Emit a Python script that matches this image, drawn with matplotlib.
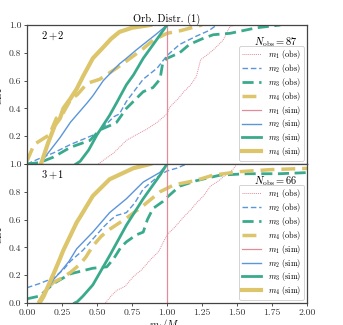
import matplotlib
matplotlib.use("Agg")
import matplotlib.pyplot as plt

plt.rcParams['font.family'] = ['cmr10', 'DejaVu Serif']
plt.rcParams['mathtext.fontset'] = 'cm'
plt.rcParams['axes.formatter.use_mathtext'] = True

# ---------------- data ----------------
title = "Orb. Distr. (1)"
panel_labels = ["$2+2$", "$3+1$"]
n_obs = [87, 66]
xticks = [0.0, 0.25, 0.5, 0.75, 1.0, 1.25, 1.5, 1.75, 2.0]
yticks = [0.0, 0.2, 0.4, 0.6, 0.8, 1.0]

# panel 1 (2+2)
p1_m1_obs_x = [0.51, 0.55, 0.62, 0.71, 0.78, 0.855, 0.93, 1.0, 1.02, 1.08, 1.12, 1.17, 1.21, 1.24, 1.28, 1.33, 1.40, 1.45, 1.50]
p1_m1_obs_y = [0.0, 0.03, 0.08, 0.17, 0.21, 0.25, 0.30, 0.36, 0.41, 0.47, 0.52, 0.57, 0.63, 0.75, 0.78, 0.82, 0.89, 0.99, 1.0]
p1_m2_obs_x = [0.0, 0.09, 0.19, 0.31, 0.43, 0.50, 0.55, 0.62, 0.66, 0.71, 0.83, 0.93, 1.0, 1.09, 1.21, 1.30, 1.355]
p1_m2_obs_y = [0.0, 0.04, 0.08, 0.14, 0.19, 0.22, 0.27, 0.34, 0.36, 0.45, 0.61, 0.69, 0.78, 0.86, 0.92, 0.96, 1.0]
p1_m3_obs_x = [0.0, 0.09, 0.19, 0.31, 0.45, 0.52, 0.60, 0.64, 0.71, 0.76, 0.83, 0.90, 0.95, 0.97, 1.0, 1.09, 1.16, 1.25, 1.33, 1.45, 1.64, 1.81]
p1_m3_obs_y = [0.0, 0.01, 0.05, 0.12, 0.17, 0.245, 0.28, 0.30, 0.40, 0.45, 0.52, 0.55, 0.61, 0.73, 0.76, 0.80, 0.86, 0.90, 0.93, 0.94, 0.98, 1.0]
p1_m4_obs_x = [0.0, 0.05, 0.16, 0.21, 0.26, 0.31, 0.36, 0.43, 0.52, 0.64, 0.71, 0.83, 0.90, 1.0, 1.10, 1.21, 1.25]
p1_m4_obs_y = [0.02, 0.14, 0.21, 0.33, 0.37, 0.46, 0.50, 0.58, 0.61, 0.69, 0.74, 0.83, 0.89, 0.94, 0.96, 0.99, 1.0]
p1_m1_sim_x = [1.0, 1.0]
p1_m1_sim_y = [0.0, 1.0]
p1_m2_sim_x = [0.09, 0.19, 0.236, 0.31, 0.43, 0.47, 0.545, 0.66, 0.71, 0.78, 0.855, 0.93, 1.0]
p1_m2_sim_y = [0.0, 0.13, 0.19, 0.30, 0.44, 0.49, 0.60, 0.72, 0.76, 0.82, 0.88, 0.94, 1.0]
p1_m3_sim_x = [0.35, 0.38, 0.44, 0.50, 0.59, 0.64, 0.71, 0.76, 0.83, 0.88, 0.93, 1.0]
p1_m3_sim_y = [0.0, 0.02, 0.10, 0.21, 0.35, 0.44, 0.57, 0.64, 0.76, 0.83, 0.90, 1.0]
p1_m4_sim_x = [0.10, 0.15, 0.20, 0.236, 0.26, 0.31, 0.355, 0.40, 0.47, 0.545, 0.60, 0.66, 0.75, 0.88]
p1_m4_sim_y = [0.0, 0.15, 0.28, 0.33, 0.40, 0.47, 0.54, 0.63, 0.76, 0.84, 0.90, 0.95, 0.98, 1.0]

# panel 2 (3+1)
p2_m1_obs_x = [0.56, 0.60, 0.64, 0.70, 0.76, 0.82, 0.88, 0.94, 1.0, 1.06, 1.12, 1.17, 1.21, 1.26, 1.31, 1.37, 1.43, 1.47, 1.50]
p2_m1_obs_y = [0.0, 0.05, 0.09, 0.12, 0.19, 0.24, 0.31, 0.37, 0.49, 0.55, 0.62, 0.67, 0.72, 0.77, 0.84, 0.88, 0.93, 0.96, 1.0]
p2_m2_obs_x = [0.0, 0.09, 0.19, 0.26, 0.31, 0.40, 0.47, 0.55, 0.60, 0.64, 0.71, 0.77, 0.83, 0.90, 0.95, 1.0, 1.07, 1.14]
p2_m2_obs_y = [0.11, 0.14, 0.18, 0.24, 0.30, 0.38, 0.46, 0.55, 0.60, 0.63, 0.65, 0.72, 0.82, 0.88, 0.92, 0.95, 0.97, 1.0]
p2_m3_obs_x = [0.0, 0.09, 0.19, 0.31, 0.47, 0.57, 0.62, 0.67, 0.71, 0.78, 0.83, 0.86, 0.90, 0.97, 1.0, 1.09, 1.21, 1.38, 1.57, 1.80, 2.05]
p2_m3_obs_y = [0.03, 0.05, 0.14, 0.21, 0.25, 0.26, 0.32, 0.40, 0.44, 0.49, 0.51, 0.60, 0.68, 0.73, 0.76, 0.84, 0.88, 0.92, 0.93, 0.93, 0.94]
p2_m4_obs_x = [0.08, 0.14, 0.19, 0.25, 0.31, 0.38, 0.42, 0.47, 0.53, 0.59, 0.65, 0.71, 0.83, 0.95, 1.05, 1.20, 1.33, 1.52, 1.75, 2.05]
p2_m4_obs_y = [0.0, 0.10, 0.15, 0.18, 0.22, 0.28, 0.33, 0.41, 0.48, 0.53, 0.57, 0.61, 0.70, 0.80, 0.85, 0.88, 0.92, 0.945, 0.96, 0.97]
p2_m1_sim_x = [1.0, 1.0]
p2_m1_sim_y = [0.0, 1.0]
p2_m2_sim_x = [0.09, 0.12, 0.19, 0.236, 0.30, 0.355, 0.47, 0.59, 0.71, 0.83, 0.95, 1.0]
p2_m2_sim_y = [0.0, 0.05, 0.17, 0.22, 0.30, 0.39, 0.51, 0.65, 0.75, 0.87, 0.94, 1.0]
p2_m3_sim_x = [0.34, 0.36, 0.40, 0.47, 0.59, 0.71, 0.83, 0.95, 1.0]
p2_m3_sim_y = [0.0, 0.01, 0.05, 0.13, 0.34, 0.56, 0.75, 0.92, 1.0]
p2_m4_sim_x = [0.09, 0.12, 0.15, 0.19, 0.236, 0.26, 0.355, 0.38, 0.47, 0.59, 0.76, 0.88]
p2_m4_sim_y = [0.0, 0.05, 0.12, 0.21, 0.32, 0.38, 0.58, 0.62, 0.77, 0.89, 0.97, 1.0]

panels = [
    dict(obs=[(p1_m1_obs_x, p1_m1_obs_y), (p1_m2_obs_x, p1_m2_obs_y), (p1_m3_obs_x, p1_m3_obs_y), (p1_m4_obs_x, p1_m4_obs_y)],
         sim=[(p1_m1_sim_x, p1_m1_sim_y), (p1_m2_sim_x, p1_m2_sim_y), (p1_m3_sim_x, p1_m3_sim_y), (p1_m4_sim_x, p1_m4_sim_y)]),
    dict(obs=[(p2_m1_obs_x, p2_m1_obs_y), (p2_m2_obs_x, p2_m2_obs_y), (p2_m3_obs_x, p2_m3_obs_y), (p2_m4_obs_x, p2_m4_obs_y)],
         sim=[(p2_m1_sim_x, p2_m1_sim_y), (p2_m2_sim_x, p2_m2_sim_y), (p2_m3_sim_x, p2_m3_sim_y), (p2_m4_sim_x, p2_m4_sim_y)]),
]

# ---------------- style ----------------
colors = ["#E48A9A", "#5B95DA", "#3AAA8C", "#DCC56A"]
obs_styles = [dict(ls=(0, (1, 1)), lw=0.7), dict(ls=(0, (4, 2)), lw=1.0),
              dict(ls=(0, (4, 2)), lw=2.0), dict(ls=(0, (4, 2)), lw=2.5)]
sim_lw = [0.9, 1.0, 2.0, 3.0]

fig = plt.figure(figsize=(3.43, 3.25), dpi=100)
left, right = 27 / 343, 307 / 343
ax_h = 139 / 325
bottom0 = 1 - 303 / 325
axes = [fig.add_axes([left, bottom0 + ax_h, right - left, ax_h]),
        fig.add_axes([left, bottom0, right - left, ax_h])]

for i, (ax, pdata) in enumerate(zip(axes, panels)):
    for k in range(4):
        x, y = pdata['obs'][k]
        ax.plot(x, y, color=colors[k], label=r"$m_%d\ (\mathrm{obs})$" % (k + 1), **obs_styles[k])
    for k in range(4):
        x, y = pdata['sim'][k]
        ax.plot(x, y, color=colors[k], lw=sim_lw[k], ls='-', label=r"$m_%d\ (\mathrm{sim})$" % (k + 1))
    ax.set_xlim(0, 2)
    ax.set_ylim(0, 1)
    ax.set_xticks(xticks)
    ax.set_yticks(yticks)
    ax.tick_params(direction='out', length=2.5, width=0.6, labelsize=7, pad=1.5, colors='#333333')
    for sp in ax.spines.values():
        sp.set_color('#444444')
        sp.set_linewidth(0.9)
    ax.set_ylabel("CDF", fontsize=7)
    ax.yaxis.set_label_coords(-0.085, 0.5)
    ax.text(0.05, 0.92, panel_labels[i], transform=ax.transAxes, fontsize=7.5, va='center', ha='left')
    ax.text(0.965, 0.88, r"$N_{\rm obs} = %d$" % n_obs[i], transform=ax.transAxes,
            fontsize=7.5, va='center', ha='right')
    leg = ax.legend(loc='lower right', fontsize=6.0, handlelength=2.3, labelspacing=0.1,
                    borderaxespad=0.4, framealpha=1.0, edgecolor='#cccccc', borderpad=0.3,
                    handletextpad=0.8)
    leg.get_frame().set_linewidth(0.6)
    leg.set_zorder(5)

axes[0].set_title(title, fontsize=7.5, pad=2)
axes[0].tick_params(labelbottom=False)
axes[0].set_yticklabels([""] + ["%.1f" % v for v in yticks[1:]])
axes[1].set_xticklabels(["%.2f" % v for v in xticks])
axes[1].set_yticklabels(["%.1f" % v for v in yticks])
axes[1].set_xlabel(r"$m_i/M_\odot$", fontsize=7.5)
axes[1].xaxis.set_label_coords(0.5, -0.10)
axes[1].xaxis.label.set_va('top')

fig.savefig("out.png", dpi=100)
